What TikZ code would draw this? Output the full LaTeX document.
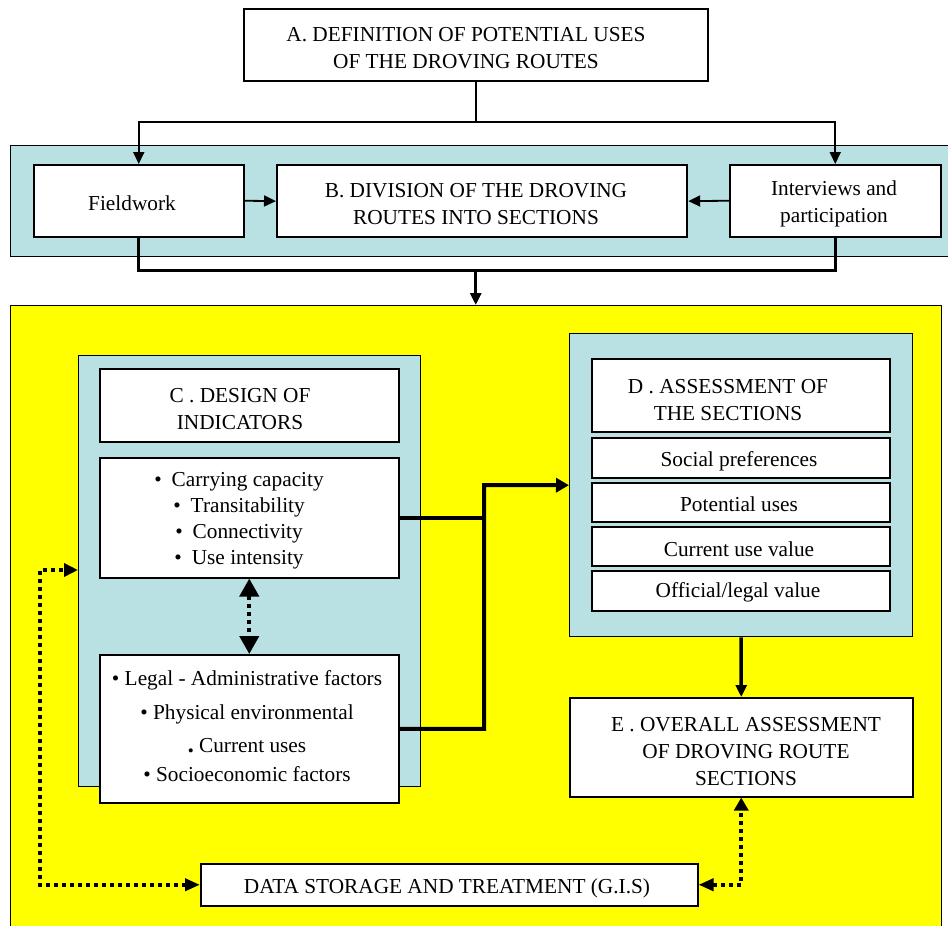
\documentclass[tikz,border=0pt]{standalone}
\usepackage{fontspec}
\setmainfont{Liberation Serif}
\usetikzlibrary{arrows.meta,calc}
\definecolor{bandblue}{RGB}{185,224,227}
\definecolor{yel}{RGB}{255,255,0}
\begin{document}
\begin{tikzpicture}[x=1pt,y=-1pt,
  font=\fontsize{21.3}{27}\selectfont,
  box/.style={draw=black, fill=white, line width=1.5pt, inner sep=0pt, anchor=north west},
  panel/.style={draw=black, line width=1.4pt, inner sep=0pt, anchor=north west},
  txt/.style={align=center, inner sep=0pt},
  thinline/.style={line width=1.8pt},
  midline/.style={line width=3pt},
  heavyline/.style={line width=4pt},
  dotline/.style={line width=4pt, dash pattern=on 4pt off 4pt},
  tipS/.style={-{Triangle[length=12pt,width=11pt]}},
  tipM/.style={-{Triangle[length=13pt,width=14pt]}},
]
\useasboundingbox (0,0) rectangle (948,926);
\fill[white] (0,0) rectangle (948,926);

% panels
\node[panel, fill=bandblue, minimum width=945pt, minimum height=111pt] (band) at (10,145) {};
\node[panel, fill=yel, minimum width=931pt, minimum height=640pt] (Y) at (10,305) {};

% A
\node[box, minimum width=464pt, minimum height=72pt] (A) at (243,8) {};
\node[txt] (At) at (466,48) {A. DEFINITION OF POTENTIAL USES\\OF THE DROVING ROUTES};

% row B
\node[box, minimum width=210pt, minimum height=72pt] (F) at (33,164) {};
\node[txt] (Ft) at (132,203) {Fieldwork};
\node[box, line width=2.2pt, minimum width=410pt, minimum height=72pt] (B) at (276,164) {};
\node[txt] (Bt) at (476,204) {B. DIVISION OF THE DROVING\\ROUTES INTO SECTIONS};
\node[box, minimum width=211pt, minimum height=72pt] (I) at (729,164) {};
\node[txt] (It) at (834,204) {Interviews and\\participation};

% C
\node[panel, fill=bandblue, minimum width=342pt, minimum height=431pt] (Cc) at (78,355) {};
\node[box, minimum width=299pt, minimum height=73pt] (Ct) at (99,368) {};
\node[txt] (Ctt) at (240,409) {C . DESIGN OF\\INDICATORS};
\node[box, minimum width=299pt, minimum height=120pt] (Ind) at (99,457) {};
\node[txt, font=\fontsize{21.3}{26}\selectfont] (Indt) at (239,521) {\textbullet\hspace{10pt}Carrying capacity\\\textbullet\hspace{10pt}Transitability\\\textbullet\hspace{10pt}Connectivity\\\textbullet\hspace{10pt}Use intensity};
\node[box, minimum width=299pt, minimum height=148pt] (Fac) at (99,654) {};
\node[txt] (Fact) at (247,726) {\textbullet\ Legal - Administrative factors\\[7pt]\textbullet\ Physical environmental\\[6pt]\raisebox{-4pt}{\scalebox{0.8}{\textbullet}}\ Current uses\\[2pt]\textbullet\ Socioeconomic factors};

% D
\node[panel, fill=bandblue, minimum width=343pt, minimum height=303pt] (Dc) at (569,333) {};
\node[box, minimum width=298pt, minimum height=73pt] (Dt) at (591,358) {};
\node[txt] (Dtt) at (728,400) {D . ASSESSMENT OF\\THE SECTIONS};
\node[box, minimum width=298pt, minimum height=40pt] (S1) at (591,437) {};
\node[txt] (S1t) at (739,461) {Social preferences};
\node[box, minimum width=298pt, minimum height=39pt] (S2) at (591,482) {};
\node[txt] (S2t) at (739,504) {Potential uses};
\node[box, minimum width=298pt, minimum height=39pt] (S3) at (591,526) {};
\node[txt] (S3t) at (739,549) {Current use value};
\node[box, minimum width=298pt, minimum height=40pt] (S4) at (591,570) {};
\node[txt] (S4t) at (738,592) {Official/legal value};

% E
\node[box, minimum width=343pt, minimum height=99pt] (E) at (569,697) {};
\node[txt] (Et) at (746,752) {E . OVERALL ASSESSMENT\\OF DROVING ROUTE\\SECTIONS};

% Data
\node[box, minimum width=497pt, minimum height=42pt] (Data) at (200,863) {};
\node[txt] (Datat) at (447,888) {DATA STORAGE AND TREATMENT (G.I.S)};

% connectors top
\coordinate (sp) at (A.south |- 0,122);
\draw[thinline] (A.south) -- (sp);
\draw[thinline, tipS] (sp) -| (F.north);
\draw[thinline, tipS] (sp) -| (I.north);
\draw[thinline, tipS] (F.east) -- (B.west);
\draw[thinline, tipS] (I.west) -- (B.east);
\coordinate (jn) at (A.south |- 0,270);
\draw[midline] (F.south) |- (jn) -| (I.south);
\draw[midline, tipS] (jn) -- (jn |- Y.north);

% C -> D
\coordinate (knee) at (484,485);
\draw[heavyline] (Ind.east) -- (Ind.east -| knee);
\draw[heavyline, line join=miter, tipM] (Fac.east) -| (knee) -- (Dc.west);

% D -> E
\draw[line width=3.5pt, tipS] (Dc.south) -- (E.north);

% dotted
\draw[dotline, {Triangle[length=18pt,width=19pt]}-{Triangle[length=18pt,width=19pt]}] (Ind.south) -- (Fac.north);
\coordinate (lc) at (40,570);
\draw[dotline, {Triangle[length=15pt,width=12pt]}-{Triangle[length=14pt,width=13pt]}] (Data.west) -| (lc) -- (lc -| Cc.west);
\draw[dotline, {Triangle[length=15pt,width=12pt]}-{Triangle[length=13pt,width=14pt]}] (Data.east) -| (E.south);
\end{tikzpicture}
\end{document}
